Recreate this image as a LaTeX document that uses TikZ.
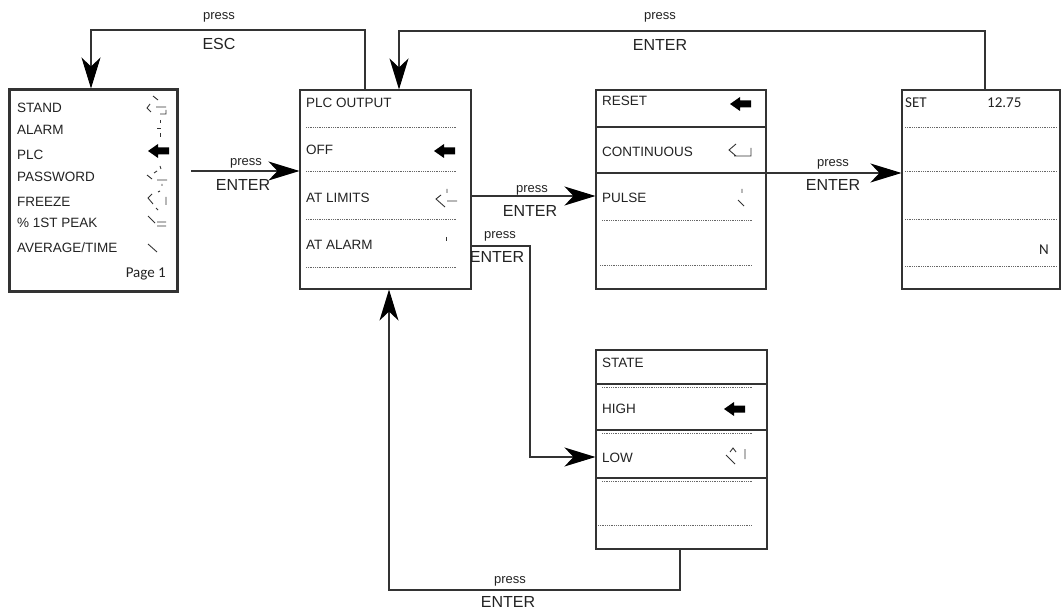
\documentclass[tikz,border=0pt]{standalone}
\usepackage{fontspec}
\setmainfont{Liberation Sans}
\newfontfamily\calfont{Carlito}
\usetikzlibrary{arrows.meta}
\definecolor{ln}{HTML}{333333}
\definecolor{tx}{HTML}{222222}
\newcommand\blkarrow[2]{\fill[black] (#1,#2) -- ++(10,-7) -- ++(0,3.5) -- ++(11,0) -- ++(0,7) -- ++(-11,0) -- ++(0,3.5) -- cycle;}
\begin{document}
\begin{tikzpicture}[x=1pt,y=-1pt,
  box/.style={draw=ln, line width=1.1pt, fill=none, inner sep=0pt},
  thickbox/.style={draw=ln, line width=3pt, inner sep=0pt},
  conn/.style={draw=ln, line width=1.1pt},
  arr/.style={-{Stealth[length=31pt,width=19pt,inset=9pt,black]}},
  dotln/.style={draw=gray!80!black, line width=0.7pt, dash pattern=on 0.9pt off 0.9pt},
  solidln/.style={draw=ln, line width=1.1pt},
  icon/.style={draw=ln, line width=0.9pt},
  tx/.style={anchor=base west, inner sep=0pt, text=tx, font=\fontsize{13.5}{14}\selectfont},
  txc/.style={anchor=base west, inner sep=0pt, text=tx, font=\calfont\fontsize{15}{15}\selectfont},
  lbp/.style={anchor=base, inner sep=0pt, text=tx, font=\fontsize{13}{13}\selectfont},
  lbe/.style={anchor=base, inner sep=0pt, text=tx, font=\fontsize{16}{16}\selectfont}]
\useasboundingbox (0,0) rectangle (1064,609);

% boxes
\node[thickbox, minimum width=168pt, minimum height=201pt] (b1) at (93,190.5) {};
\node[box, minimum width=171pt, minimum height=199pt] (b2) at (385.5,189.5) {};
\node[box, minimum width=170pt, minimum height=199pt] (b3) at (681,189.5) {};
\node[box, minimum width=158pt, minimum height=199pt] (b4) at (981,189.5) {};
\node[box, minimum width=171pt, minimum height=199pt] (b5) at (681.5,449.5) {};

% box 1 texts
\node[tx] (t11) at (17,113) {STAND};
\node[tx] (t12) at (17,135) {ALARM};
\node[tx] (t13) at (17,160) {PLC};
\node[tx] (t14) at (17,182) {PASSWORD};
\node[tx] (t15) at (17,207) {FREEZE};
\node[tx] (t16) at (17,228) {\% 1ST PEAK};
\node[tx] (t17) at (17,253) {AVERAGE/TIME};
\node[txc, anchor=base east] (t18) at (166,277) {Page 1};
% box 1 icons
\draw[icon] (153,96)--(158,100) (150,104)--(147,108)--(151,112) (156,107)--(166,107) (160,114)--(166,114)--(166,110);
\draw[icon] (160,120)--(160,123) (157,128)--(161,128) (160,133)--(160,137);
\blkarrow{148}{151}
\draw[icon] (160,166)--(161,169) (147,175)--(152,179) (154,173)--(157,171) (157,180)--(167,180) (162,184)--(162,186);
\draw[icon] (158,192)--(160,191) (152,194)--(148,198)--(153,204) (156,208)--(158,210) (166,197)--(166,205);
\draw[icon] (148,216)--(155,223) (157,222)--(166,222) (157,226)--(166,226);
\draw[icon] (148,244)--(157,252);

% box 2
\node[tx] (t21) at (306,108) {PLC OUTPUT};
\node[tx] (t22) at (306,155) {OFF};
\node[tx] (t23) at (306,203) {AT LIMITS};
\node[tx] (t24) at (306,250) {AT ALARM};
\draw[dotln] (306,127)--(457,127) (306,171)--(457,171) (306,219)--(457,219) (306,267)--(457,267);
\blkarrow{434}{151}
\draw[icon] (447,189)--(447,193) (441,195)--(436,199)--(445,207) (447,201)--(457,201);
\draw[icon] (446,237)--(446,241);

% box 3
\node[tx] (t31) at (602,106) {RESET};
\node[tx] (t32) at (602,157) {CONTINUOUS};
\node[tx] (t33) at (602,203) {PULSE};
\draw[solidln] (596,127)--(766,127) (596,173)--(766,173);
\draw[dotln] (602,220)--(752,220) (600,265)--(752,265);
\blkarrow{730}{104}
\draw[icon] (736,144)--(729,150)--(736,156) (734,156)--(751,156)--(751,148);
\draw[icon] (742,189)--(742,193) (738,200)--(744,206);

% box 4
\node[txc] (t41) at (905,108) {SET};
\node[txc] (t42) at (987,108) {12.75};
\node[txc, anchor=base east] (t43) at (1049,255) {N};
\draw[dotln] (905,127)--(1057,127) (905,171)--(1057,171) (905,219)--(1057,219) (905,266)--(1057,266);

% box 5
\node[tx] (t51) at (602,367) {STATE};
\node[tx] (t52) at (602,413) {HIGH};
\node[tx] (t53) at (602,462) {LOW};
\draw[solidln] (596,384)--(767,384) (596,430)--(767,430) (596,478)--(767,478);
\draw[dotln] (602,387)--(752,387) (602,433)--(752,433) (602,481)--(752,481) (598,525)--(752,525);
\blkarrow{724}{409}
\draw[icon] (730,452)--(733,448)--(736,452) (726,455)--(735,464) (745,449)--(745,459);

% connectors
\draw[conn, arr] (b2.north -| 365,0) |- (91,30) -- (b1.north -| 91,0);
\node[lbp] (l1a) at (219,20) {press};
\node[lbe] (l1b) at (219,50) {ESC};

\draw[conn, arr] (b4.north -| 985,0) |- (399,31) -- (b2.north -| 399,0);
\node[lbp] (l2a) at (660,20) {press};
\node[lbe] (l2b) at (660,51) {ENTER};

\coordinate (s1) at (191,171);
\draw[conn, arr] (s1) -- (b2.west |- s1);
\node[lbp] (l3a) at (246,166) {press};
\node[lbe] (l3b) at (243,191) {ENTER};

\draw[conn, arr] (b2.east |- 0,196) -- (b3.west |- 0,196);
\node[lbp] (l4a) at (532,193) {press};
\node[lbe] (l4b) at (530,217) {ENTER};

\draw[conn, arr] (b2.east |- 0,246) -| (530,457) -- (b5.west |- 0,457);
\node[lbp] (l5a) at (500,239) {press};
\node[lbe] (l5b) at (497,262) {ENTER};

\draw[conn, arr] (b3.east |- 0,173) -- (b4.west |- 0,173);
\node[lbp] (l6a) at (833,167) {press};
\node[lbe] (l6b) at (833,191) {ENTER};

\draw[conn, arr] (b5.south -| 680,0) |- (389,590) -- (b2.south -| 389,0);
\node[lbp] (l7a) at (510,583) {press};
\node[lbe] (l7b) at (508,607) {ENTER};
\end{tikzpicture}
\end{document}
